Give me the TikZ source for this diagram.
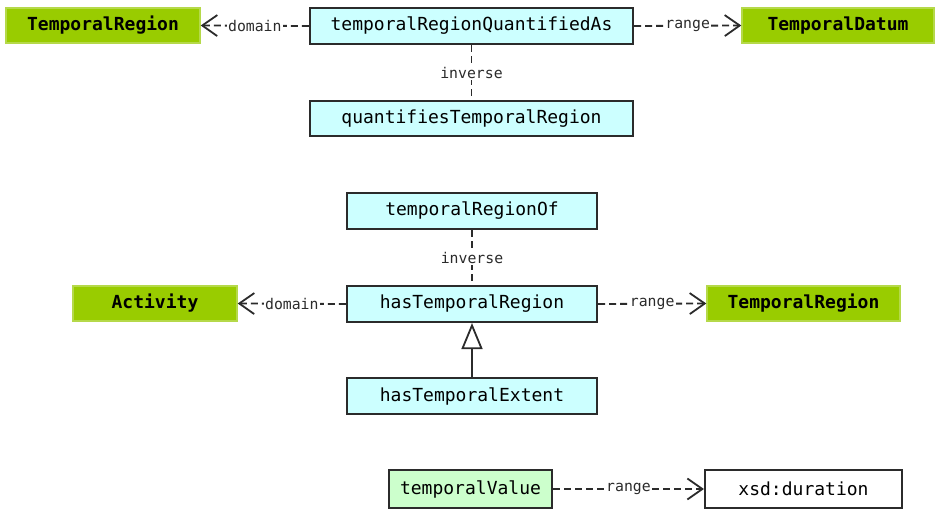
\documentclass[tikz,border=0pt]{standalone}
\usepackage{fontspec}
\newfontfamily\monof{DejaVu Sans Mono}
\usetikzlibrary{arrows.meta}
\definecolor{clsgreen}{HTML}{99CC00}
\definecolor{clsedge}{HTML}{B5D94A}
\definecolor{propcyan}{HTML}{CCFFFF}
\definecolor{dpgreen}{HTML}{CCFFCC}
\definecolor{bordergray}{HTML}{2B2B2B}
\tikzset{
  box/.style={rectangle, inner sep=0pt, anchor=center, font=\monof\fontsize{18}{20}\selectfont},
  clsbox/.style={box, fill=clsgreen, draw=clsedge, line width=1.4pt, font=\monof\bfseries\fontsize{18}{20}\selectfont},
  propbox/.style={box, fill=propcyan, draw=bordergray, line width=2.1pt},
  dpbox/.style={box, fill=dpgreen, draw=bordergray, line width=2.1pt},
  dtbox/.style={box, fill=white, draw=bordergray, line width=2.1pt},
  rel/.style={draw=bordergray, line width=1.8pt, dash pattern=on 7pt off 4pt},
  relarrow/.style={rel, -{Straight Barb[length=15pt,width=21pt,line width=1.8pt]}},
  elabel/.style={fill=white, inner sep=1.5pt, font=\monof\fontsize{14.8}{16}\selectfont, text=bordergray},
  gen/.style={draw=bordergray, line width=2.1pt, -{Triangle[open,length=26pt,width=21pt,line width=1.8pt]}}
}
\begin{document}
\begin{tikzpicture}[x=1pt,y=-1pt]
\useasboundingbox (0,0) rectangle (935,513);
\fill[white] (0,0) rectangle (935,513);

% top group
\node[clsbox, minimum width=194pt, minimum height=35pt] (tr1) at (103,25.5) {TemporalRegion};
\node[propbox, minimum width=323pt, minimum height=36pt] (trqa) at (471.5,26) {temporalRegionQuantifiedAs};
\node[clsbox, minimum width=192pt, minimum height=35pt] (td) at (838,25.5) {TemporalDatum};
\node[propbox, minimum width=323pt, minimum height=35pt] (qtr) at (471.5,118.5) {quantifiesTemporalRegion};

\draw[relarrow] (trqa.west) -- node[elabel] (l1) {domain} (tr1.east);
\draw[relarrow] (trqa.east) -- node[elabel] (l2) {range} (td.west);
\draw[rel] (trqa.south) -- node[elabel] (l3) {inverse} (qtr.north);

% middle group
\node[propbox, minimum width=250pt, minimum height=36pt] (tro) at (472,211) {temporalRegionOf};
\node[clsbox, minimum width=164pt, minimum height=35pt] (act) at (155,303.5) {Activity};
\node[propbox, minimum width=250pt, minimum height=36pt] (htr) at (472,304) {hasTemporalRegion};
\node[clsbox, minimum width=193pt, minimum height=35pt] (tr2) at (803.5,303.5) {TemporalRegion};
\node[propbox, minimum width=250pt, minimum height=36pt] (hte) at (472,396) {hasTemporalExtent};

\draw[rel] (tro.south) -- node[elabel] (l4) {inverse} (htr.north);
\draw[relarrow] (htr.west) -- node[elabel] (l5) {domain} (act.east);
\draw[relarrow] (htr.east) -- node[elabel] (l6) {range} (tr2.west);
\draw[gen] (hte.north) -- (htr.south);

% bottom group
\node[dpbox, minimum width=163pt, minimum height=38pt] (tv) at (470.5,489) {temporalValue};
\node[dtbox, minimum width=197pt, minimum height=38pt] (xsd) at (803.5,489) {xsd:duration};
\draw[relarrow] (tv.east) -- node[elabel] (l7) {range} (xsd.west);
\end{tikzpicture}
\end{document}
